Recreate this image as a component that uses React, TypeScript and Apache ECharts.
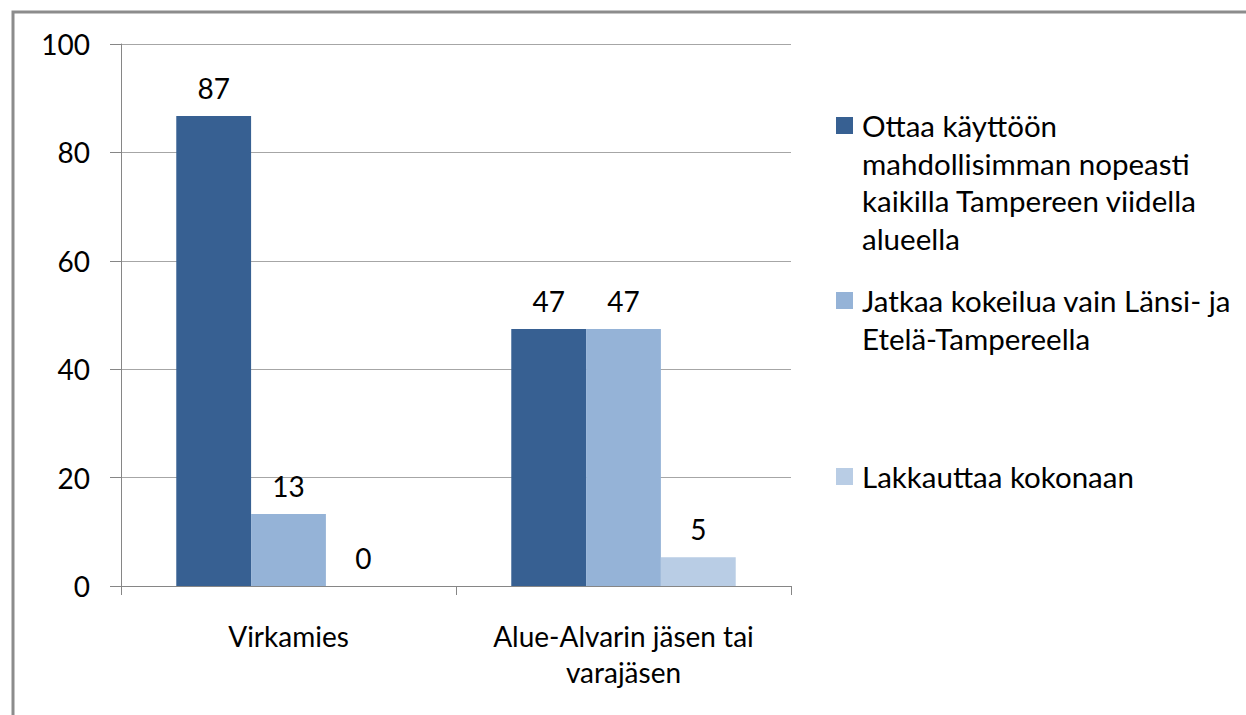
import React, { useEffect, useRef } from "react";
import * as echarts from "echarts";

const categories = ["Virkamies", "Alue-Alvarin jäsen tai\nvarajäsen"];
const seriesNames = [
  "Ottaa käyttöön mahdollisimman nopeasti kaikilla Tampereen viidella alueella",
  "Jatkaa kokeilua vain Länsi- ja Etelä-Tampereella",
  "Lakkauttaa kokonaan",
];
const legendLines = [
  ["Ottaa käyttöön", "mahdollisimman nopeasti", "kaikilla Tampereen viidella", "alueella"],
  ["Jatkaa kokeilua vain Länsi- ja", "Etelä-Tampereella"],
  ["Lakkauttaa kokonaan"],
];
const seriesValues = [
  [86.7, 47.4],
  [13.3, 47.4],
  [0, 5.3],
];
const colors = ["#376092", "#95B3D7", "#B9CDE5"];
const yTicks = { min: 0, max: 100, interval: 20 };

const FONT = "Lato";
const FS = 28;
const LFS = 29.5;

export default function App() {
  const ref = useRef<HTMLDivElement>(null);
  useEffect(() => {
    if (!ref.current) return;
    const chart = echarts.init(ref.current, null, { renderer: "svg" });
    const legendTops = [107, 282, 458];
    const graphics: any[] = [
      {
        type: "rect",
        shape: { x: 13, y: 12, width: 1400, height: 900 },
        style: { fill: "none", stroke: "#8c8c8c", lineWidth: 3 },
        silent: true,
      },
    ];
    legendLines.forEach((lines, i) => {
      graphics.push({
        type: "rect",
        shape: { x: 836, y: legendTops[i] + 10, width: 17, height: 17 },
        style: { fill: colors[i] },
      });
      graphics.push({
        type: "text",
        x: 862,
        y: legendTops[i],
        style: {
          text: lines.join("\n"),
          font: `${LFS}px ${FONT}`,
          fill: "#000",
          lineHeight: 37.5,
          textVerticalAlign: "top",
        },
      });
    });
    chart.setOption({
      animation: false,
      backgroundColor: "#fff",
      textStyle: { fontFamily: FONT },
      grid: { left: 121, right: 455, top: 44, bottom: 129, containLabel: false },
      xAxis: {
        type: "category",
        data: categories,
        axisLine: { lineStyle: { color: "#868686", width: 1 } },
        axisTick: { show: true, length: 9, lineStyle: { color: "#868686" } },
        axisLabel: {
          color: "#000",
          fontSize: FS,
          fontFamily: FONT,
          margin: 32,
          lineHeight: 36,
          interval: 0,
        },
      },
      yAxis: {
        type: "value",
        min: yTicks.min,
        max: yTicks.max,
        interval: yTicks.interval,
        axisLine: { show: true, lineStyle: { color: "#868686", width: 1 } },
        axisTick: { show: true, length: 11, lineStyle: { color: "#868686" } },
        axisLabel: { color: "#000", fontSize: FS, fontFamily: FONT, margin: 31 },
        splitLine: { lineStyle: { color: "#a6a6a6", width: 1 } },
      },
      series: seriesNames.map((name, i) => ({
        name,
        type: "bar",
        data: seriesValues[i],
        barGap: "0%",
        barCategoryGap: "33%",
        itemStyle: { color: colors[i] },
        label: {
          show: true,
          position: "top",
          distance: 14,
          color: "#000",
          fontSize: FS,
          fontFamily: FONT,
          formatter: (p: any) => String(Math.round(p.value)),
        },
      })),
      graphic: graphics,
    });
    return () => chart.dispose();
  }, []);
  return (
    <div
      ref={ref}
      style={{ position: "absolute", left: 0, top: 0, width: 1246, height: 715 }}
    />
  );
}
